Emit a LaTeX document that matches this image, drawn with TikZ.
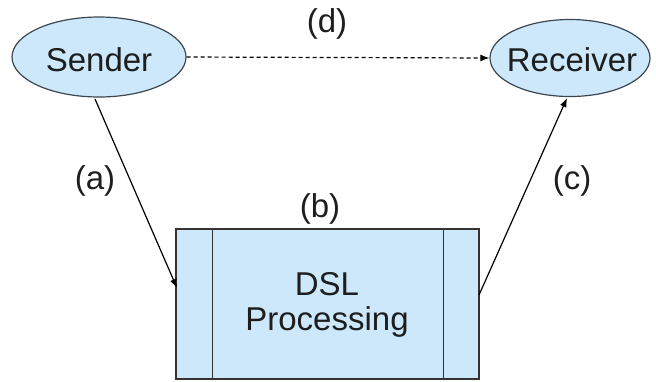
\documentclass[tikz,border=0pt]{standalone}
\usepackage{fontspec}
\setmainfont{Liberation Sans}
\usetikzlibrary{arrows.meta,shapes.geometric}
\definecolor{boxfill}{RGB}{204,232,250}
\definecolor{edgecol}{RGB}{60,70,80}
\definecolor{txt}{RGB}{30,30,30}
\begin{document}
\begin{tikzpicture}[x=0.5pt,y=-0.5pt,
  lbl/.style={font=\fontsize{16.5}{18}\selectfont, text=txt},
  oval/.style={ellipse, draw=edgecol, fill=boxfill, line width=0.6pt, inner sep=0pt},
  conn/.style={draw=black, line width=0.6pt, -{Latex[length=4.5pt,width=3.5pt]}}]
\useasboundingbox (0,0) rectangle (656,381);
\node[oval, minimum width=87pt, minimum height=40pt] (sender) at (99,57) {};
\node[lbl] at (99,60) {Sender};
\node[oval, minimum width=80pt, minimum height=38.5pt] (receiver) at (570,58) {};
\node[lbl] at (572,60) {Receiver};
\node[draw=black!80, fill=boxfill, line width=0.6pt, minimum width=151.5pt, minimum height=75pt, inner sep=0pt] (dsl) at (327.5,304) {};
\draw[black!80, line width=0.5pt] (212,229) -- (212,379) (443,229) -- (443,379);
\node[lbl, align=center, font=\fontsize{16.5}{17.5}\selectfont] (dsltext) at (327,305) {DSL\\Processing};
\coordinate (aS) at (95,99);
\coordinate (aE) at (177,288);
\coordinate (cS) at (479,295);
\coordinate (cE) at (567,98);
\draw[conn] (aS) -- (aE);
\draw[conn] (cS) -- (cE);
\draw[conn, dash pattern=on 2pt off 1.5pt] (sender.east) -- (receiver.west);
\node[lbl] (la) at (95,181) {(a)};
\node[lbl] (lb) at (320,209) {(b)};
\node[lbl] (lc) at (572,181) {(c)};
\node[lbl] (ld) at (327,24) {(d)};
\end{tikzpicture}
\end{document}
